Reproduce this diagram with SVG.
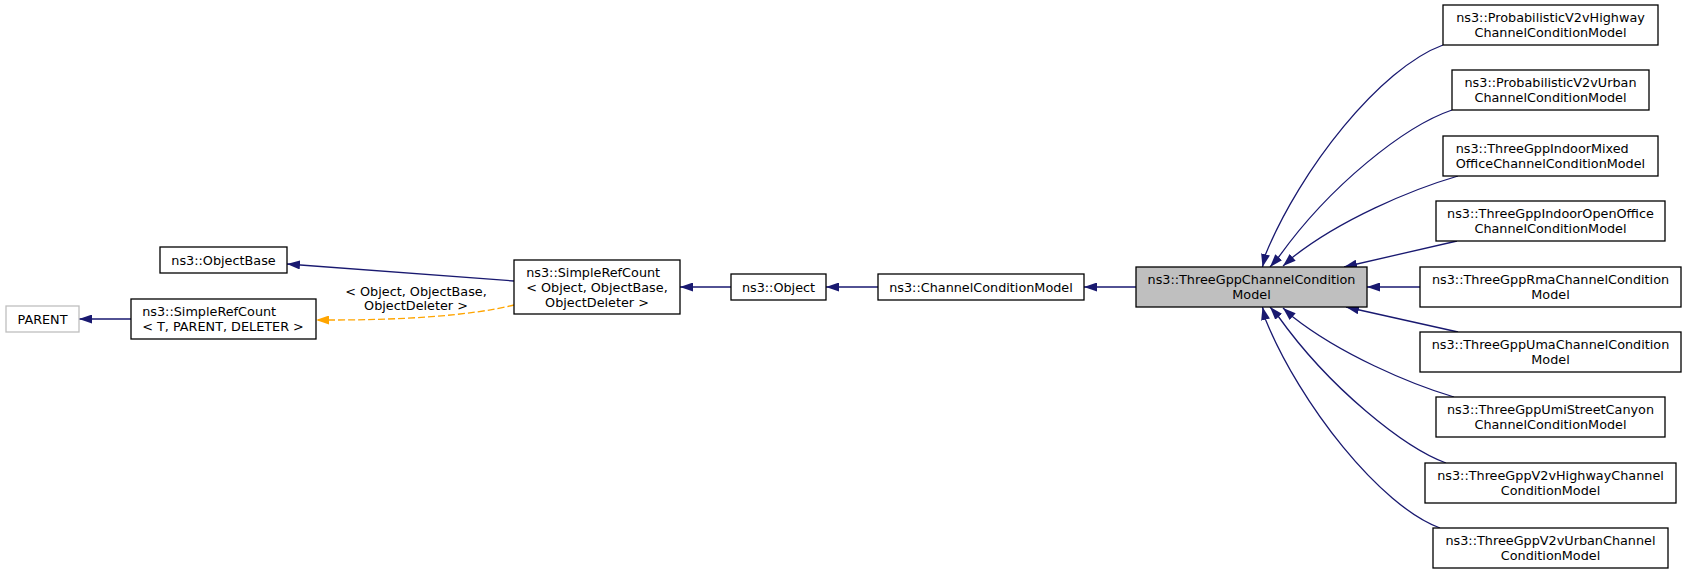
<svg xmlns="http://www.w3.org/2000/svg" width="1688" height="573" viewBox="0 0 1688 573">
<style>
text{font-family:"DejaVu Sans","Liberation Sans",sans-serif;font-size:12.8px;fill:#000}
.c{text-anchor:middle}
.n rect{fill:#fff;stroke:#000;stroke-width:1.3}
.e{fill:none;stroke:#191970;stroke-width:1.3}
.d{fill:none;stroke:#ffa500;stroke-width:1.3;stroke-dasharray:7,3}
</style>
<defs>
<marker id="a" viewBox="0 0 13 9" refX="13" refY="4.5" markerWidth="13" markerHeight="9" orient="auto" markerUnits="userSpaceOnUse"><path d="M0,0L13,4.5L0,9z" fill="#191970"/></marker>
<marker id="o" viewBox="0 0 13 9" refX="13" refY="4.5" markerWidth="13" markerHeight="9" orient="auto" markerUnits="userSpaceOnUse"><path d="M0,0L13,4.5L0,9z" fill="#ffa500"/></marker>
</defs>
<rect width="1688" height="573" fill="#fff"/>
<g id="connectors">
<path class="e" d="M131,319L79,319" marker-end="url(#a)"/>
<path class="e" d="M514,281L287,264" marker-end="url(#a)"/>
<path class="d" d="M514,305C470,316 400,320 330,320L316,320" marker-end="url(#o)"/>
<text class="c" x="416" y="295.5">&lt; Object, ObjectBase,</text>
<text class="c" x="416" y="310">ObjectDeleter &gt;</text>
<path class="e" d="M731,287L680,287" marker-end="url(#a)"/>
<path class="e" d="M878,287L826,287" marker-end="url(#a)"/>
<path class="e" d="M1136,287L1084,287" marker-end="url(#a)"/>
<path class="e" d="M1420,287L1367,287" marker-end="url(#a)"/>
<path class="e" d="M1443,45C1380,68 1300,170 1265.5,254.5L1262.5,267" marker-end="url(#a)"/>
<path class="e" d="M1452,110C1405,126 1330,185 1278,258L1270,267" marker-end="url(#a)"/>
<path class="e" d="M1458,176C1410,190 1340,220 1293,257L1283,266" marker-end="url(#a)"/>
<path class="e" d="M1457,241L1344,267" marker-end="url(#a)"/>
<path class="e" d="M1458,332L1346,307" marker-end="url(#a)"/>
<path class="e" d="M1454,397C1410,384 1340,354 1293,317L1283,308" marker-end="url(#a)"/>
<path class="e" d="M1446,463C1405,448 1330,389 1278,316L1270,307" marker-end="url(#a)"/>
<path class="e" d="M1440,528C1380,506 1300,404 1265.5,319.5L1262.5,307" marker-end="url(#a)"/>
</g>
<g id="parent" class="n"><rect x="6" y="306" width="73" height="26" style="stroke:#bfbfbf"/><text class="c" x="42.5" y="323.5">PARENT</text></g>
<g id="simplerefcount_t" class="n"><rect x="131" y="299" width="185" height="40"/><text x="142.2" y="316">ns3::SimpleRefCount</text><text x="142.2" y="331">&lt; T, PARENT, DELETER &gt;</text></g>
<g id="objectbase" class="n"><rect x="160" y="247" width="127" height="26"/><text class="c" x="223.5" y="264.5">ns3::ObjectBase</text></g>
<g id="simplerefcount_object" class="n"><rect x="514" y="260" width="166" height="54"/><text x="526.2" y="276.5">ns3::SimpleRefCount</text><text x="526.2" y="291.5">&lt; Object, ObjectBase,</text><text class="c" x="597" y="306.5">ObjectDeleter &gt;</text></g>
<g id="object" class="n"><rect x="731" y="274" width="95" height="26"/><text class="c" x="778.5" y="291.5">ns3::Object</text></g>
<g id="channelconditionmodel" class="n"><rect x="878" y="274" width="206" height="26"/><text class="c" x="981" y="291.5">ns3::ChannelConditionModel</text></g>
<g id="threegppchannelconditionmodel" class="n"><rect x="1136" y="267" width="231" height="40" style="fill:#bfbfbf"/><text class="c" x="1251.5" y="284">ns3::ThreeGppChannelCondition</text><text class="c" x="1251.5" y="299">Model</text></g>
<g id="probv2vhighway" class="n"><rect x="1443" y="5" width="215" height="40"/><text class="c" x="1550.5" y="22">ns3::ProbabilisticV2vHighway</text><text class="c" x="1550.5" y="37">ChannelConditionModel</text></g>
<g id="probv2vurban" class="n"><rect x="1452" y="70" width="197" height="40"/><text class="c" x="1550.5" y="87">ns3::ProbabilisticV2vUrban</text><text class="c" x="1550.5" y="102">ChannelConditionModel</text></g>
<g id="indoormixed" class="n"><rect x="1443" y="136" width="215" height="40"/><text x="1455.7" y="153">ns3::ThreeGppIndoorMixed</text><text class="c" x="1550.5" y="168">OfficeChannelConditionModel</text></g>
<g id="indooropenoffice" class="n"><rect x="1436" y="201" width="229" height="40"/><text class="c" x="1550.5" y="218">ns3::ThreeGppIndoorOpenOffice</text><text class="c" x="1550.5" y="233">ChannelConditionModel</text></g>
<g id="rma" class="n"><rect x="1420" y="267" width="261" height="40"/><text class="c" x="1550.5" y="284">ns3::ThreeGppRmaChannelCondition</text><text class="c" x="1550.5" y="299">Model</text></g>
<g id="uma" class="n"><rect x="1420" y="332" width="261" height="40"/><text class="c" x="1550.5" y="349">ns3::ThreeGppUmaChannelCondition</text><text class="c" x="1550.5" y="364">Model</text></g>
<g id="umistreetcanyon" class="n"><rect x="1436" y="397" width="229" height="40"/><text class="c" x="1550.5" y="414">ns3::ThreeGppUmiStreetCanyon</text><text class="c" x="1550.5" y="429">ChannelConditionModel</text></g>
<g id="v2vhighway" class="n"><rect x="1425" y="463" width="251" height="40"/><text class="c" x="1550.5" y="480">ns3::ThreeGppV2vHighwayChannel</text><text class="c" x="1550.5" y="495">ConditionModel</text></g>
<g id="v2vurban" class="n"><rect x="1433" y="528" width="235" height="40"/><text class="c" x="1550.5" y="545">ns3::ThreeGppV2vUrbanChannel</text><text class="c" x="1550.5" y="560">ConditionModel</text></g>
</svg>
